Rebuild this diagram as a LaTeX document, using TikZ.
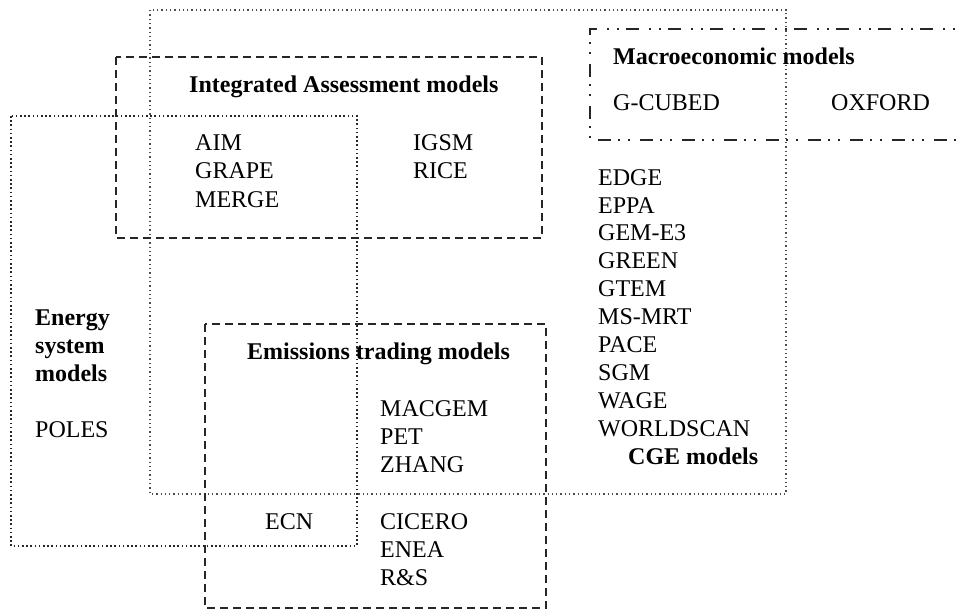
\documentclass[tikz,border=0pt]{standalone}
\usepackage{fontspec}
\setmainfont{Liberation Serif}
\begin{document}
\begin{tikzpicture}[x=1pt,y=-1pt,
  lbl/.style={anchor=base west,inner sep=0pt,font=\fontsize{24}{28}\selectfont},
  hdr/.style={lbl,font=\fontsize{24}{28}\selectfont\bfseries},
  dashbox/.style={draw=black!85,line width=2.3pt,dash pattern=on 8pt off 5pt},
  finedots/.style={draw=black!70,line width=1.3pt,dash pattern=on 1.3pt off 3pt},
  thickdots/.style={draw=black!85,line width=2.4pt,dash pattern=on 1.6pt off 2.6pt},
  dashdotdot/.style={draw=black!85,line width=2.3pt,dash pattern=on 13pt off 7pt on 2pt off 8pt on 2pt off 10pt}]
\useasboundingbox (0,0) rectangle (961,611);
% boxes
\draw[finedots] (150,10) rectangle (786,494);
\draw[dashbox] (116,57) rectangle (542,238);
\draw[thickdots] (11,116) rectangle (357,546);
\draw[dashbox] (205,324) rectangle (546,608);
\draw[dashdotdot] (975,29) -- (590,29) -- (590,140) -- (975,140);
% Integrated Assessment
\node[hdr] (ia) at (189,92) {Integrated Assessment models};
\node[lbl] (aim) at (195,150) {AIM};
\node[lbl] (grape) at (195,178) {GRAPE};
\node[lbl] (merge) at (195,207) {MERGE};
\node[lbl] (igsm) at (413,150) {IGSM};
\node[lbl] (rice) at (413,178) {RICE};
% Macroeconomic
\node[hdr] (macro) at (613,64) {Macroeconomic models};
\node[lbl] (gcubed) at (613,110) {G-CUBED};
\node[lbl] (oxford) at (831,110) {OXFORD};
% CGE
\node[lbl] (edge) at (598,185) {EDGE};
\node[lbl] (eppa) at (598,213) {EPPA};
\node[lbl] (gem) at (598,240) {GEM-E3};
\node[lbl] (green) at (598,268) {GREEN};
\node[lbl] (gtem) at (598,296) {GTEM};
\node[lbl] (msmrt) at (598,324) {MS-MRT};
\node[lbl] (pace) at (598,352) {PACE};
\node[lbl] (sgm) at (598,380) {SGM};
\node[lbl] (wage) at (598,408) {WAGE};
\node[lbl] (worldscan) at (598,436) {WORLDSCAN};
\node[hdr] (cge) at (628,464) {CGE models};
% Energy
\node[hdr] (en1) at (35,325) {Energy};
\node[hdr] (en2) at (35,353) {system};
\node[hdr] (en3) at (35,381) {models};
\node[lbl] (poles) at (35,437) {POLES};
% Emissions
\node[hdr] (em) at (247,359) {Emissions trading models};
\node[lbl] (macgem) at (380,416) {MACGEM};
\node[lbl] (pet) at (380,444) {PET};
\node[lbl] (zhang) at (380,472) {ZHANG};
\node[lbl] (ecn) at (265,529) {ECN};
\node[lbl] (cicero) at (380,529) {CICERO};
\node[lbl] (enea) at (380,557) {ENEA};
\node[lbl] (rs) at (380,585) {R\&S};
\end{tikzpicture}
\end{document}
